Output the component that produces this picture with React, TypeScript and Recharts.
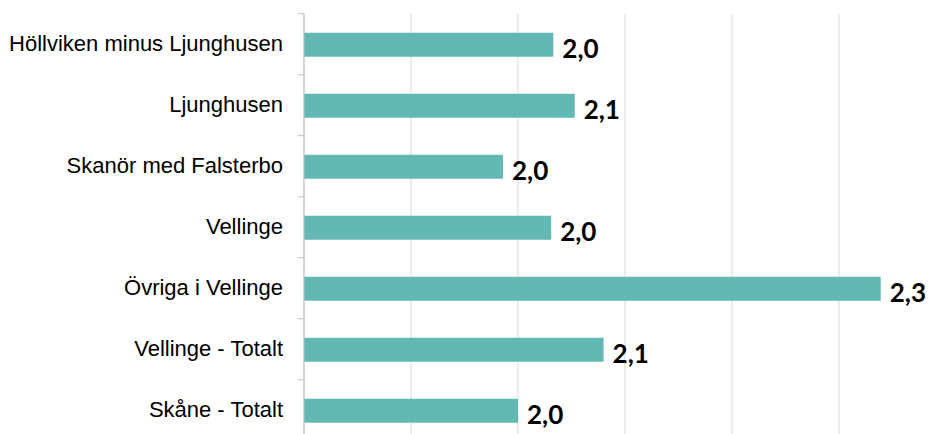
import { Bar, BarChart, CartesianGrid, LabelList, XAxis, YAxis } from "recharts";

const categories = [
	"Höllviken minus Ljunghusen",
	"Ljunghusen",
	"Skanör med Falsterbo",
	"Vellinge",
	"Övriga i Vellinge",
	"Vellinge - Totalt",
	"Skåne - Totalt",
];

const values = [2.033, 2.053, 1.986, 2.031, 2.339, 2.08, 2.0];

const xTicks = [1.8, 1.9, 2.0, 2.1, 2.2, 2.3, 2.4];

const chartData = categories.map((name, i) => ({ name, value: values[i] }));

// 1 decimal, Swedish comma
const fmt = (v: number) => v.toFixed(1).replace(".", ",");

function CategoryTick(props: any) {
	const { x, y, payload, index } = props;
	const half = 30.5;
	const axisX = x + 21;
	return (
		<g>
			<line x1={axisX - 6} x2={axisX} y1={y - half} y2={y - half} stroke="#bfbfbf" />
			{index === categories.length - 1 && (
				<line x1={axisX - 6} x2={axisX} y1={y + half} y2={y + half} stroke="#bfbfbf" />
			)}
			<text
				x={x}
				y={y}
				dy={7}
				textAnchor="end"
				fill="#000"
				fontSize={22}
				fontFamily="'Liberation Sans', Arial, sans-serif"
			>
				{payload.value}
			</text>
		</g>
	);
}

function ValueLabel(props: any) {
	const { x, y, width, height, value } = props;
	return (
		<text
			x={x + width + 9}
			y={y + height + 1}
			fill="#000"
			fontSize={26}
			fontWeight="bold"
			fontFamily="Lato, 'Open Sans', sans-serif"
		>
			{fmt(value)}
		</text>
	);
}

const NoTick = () => <g />;

export default function App() {
	return (
		<div
			style={{
				position: "absolute",
				left: 0,
				top: 0,
				width: 934,
				height: 434,
				overflow: "hidden",
				background: "#fff",
			}}
		>
			<BarChart
				width={960}
				height={460}
				data={chartData}
				layout="vertical"
				margin={{ top: 13.7, right: 14, left: 0, bottom: 19.3 }}
			>
				<CartesianGrid horizontal={false} vertical stroke="#d9d9d9" />
				<XAxis
					type="number"
					domain={[1.8, 2.4]}
					ticks={xTicks}
					axisLine={false}
					tickLine={false}
					tick={<NoTick />}
					height={0}
				/>
				<YAxis
					type="category"
					dataKey="name"
					width={304}
					axisLine={{ stroke: "#bfbfbf" }}
					tickLine={false}
					tickSize={0}
					tickMargin={21}
					tick={<CategoryTick />}
					interval={0}
				/>
				<Bar dataKey="value" fill="#63b8b4" barSize={24} isAnimationActive={false}>
					<LabelList dataKey="value" content={<ValueLabel />} />
				</Bar>
			</BarChart>
		</div>
	);
}
